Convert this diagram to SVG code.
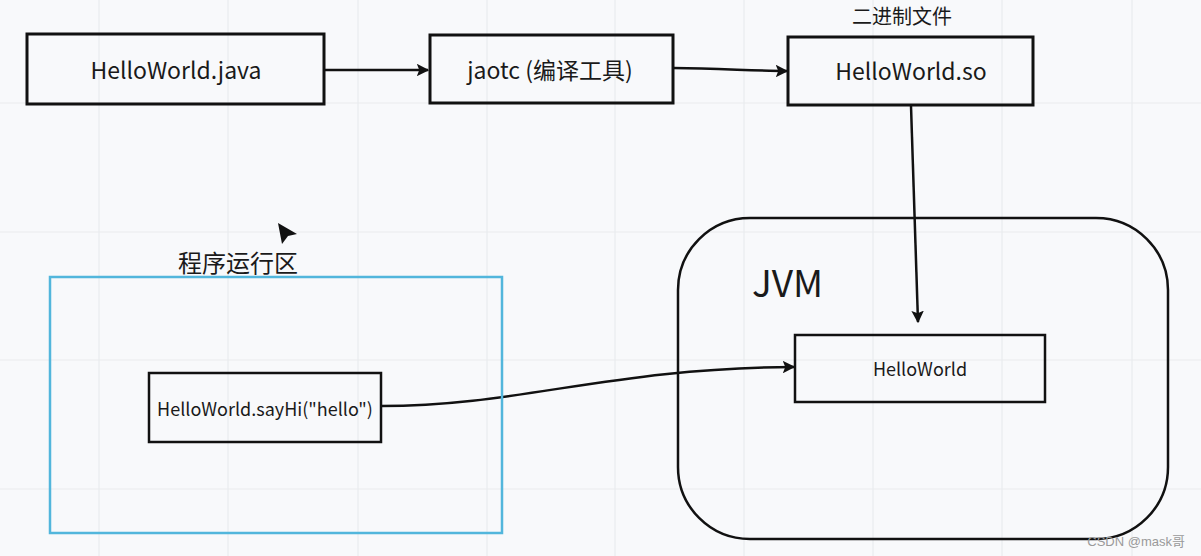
<svg xmlns="http://www.w3.org/2000/svg" width="1201" height="556" viewBox="0 0 1201 556">
<defs>
<marker id="ah" viewBox="0 0 10 10" refX="9" refY="5" markerWidth="5" markerHeight="5" orient="auto" markerUnits="strokeWidth">
<path d="M0,0 L10,5 L0,10 L2,5 z" fill="#111"/>
</marker>
<style>
.grid{stroke:#e9ebee;stroke-width:1.2}
.box{fill:none;stroke:#111;stroke-width:3}
.ibox{fill:none;stroke:#111;stroke-width:2.5}
.t{font-family:"Noto Sans CJK SC","Noto Sans",sans-serif;fill:#1a1a1a;text-anchor:middle}
.con{fill:none;stroke:#111;stroke-width:2.5;marker-end:url(#ah)}
</style>
</defs>
<rect width="1201" height="556" fill="#f8f9fb"/>
<g id="grid">
<path class="grid" d="M99,0V556M228,0V556M358,0V556M487,0V556M615,0V556M744,0V556M873,0V556M1002,0V556M1132,0V556M0,103H1201M0,232H1201M0,360H1201M0,489H1201"/>
</g>
<g id="connectors">
<path class="con" d="M324,70 L428,70"/>
<path class="con" d="M673,68 C720,68 750,71 787,71"/>
<path class="con" d="M911,106 L918,322"/>
<path class="con" d="M381,406 C520,406 610,368 794,367"/>
</g>
<g id="java">
<rect class="box" x="27" y="34" width="297" height="70"/>
<text class="t" x="176" y="79" font-size="23">HelloWorld.java</text>
</g>
<g id="jaotc">
<rect class="box" x="430" y="35" width="243" height="68"/>
<text class="t" x="550" y="79" font-size="23">jaotc (编译工具)</text>
</g>
<g id="so">
<text class="t" x="902" y="24" font-size="20">二进制文件</text>
<rect class="box" x="788" y="37" width="245" height="68"/>
<text class="t" x="911" y="80" font-size="23">HelloWorld.so</text>
</g>
<g id="jvm">
<rect class="ibox" x="678" y="218" width="490" height="321" rx="72" ry="72"/>
<text x="752" y="297" font-size="37" font-family="Noto Sans CJK SC, Noto Sans, sans-serif" fill="#1a1a1a">JVM</text>
</g>
<g id="helloworld">
<rect class="ibox" x="795" y="335" width="250" height="67"/>
<text class="t" x="920" y="376" font-size="18">HelloWorld</text>
</g>
<g id="runarea">
<text class="t" x="238" y="272" font-size="24">程序运行区</text>
<rect x="50" y="277" width="452" height="256" fill="none" stroke="#52b6dc" stroke-width="2.5"/>
</g>
<g id="sayhi">
<rect class="ibox" x="149" y="373" width="232" height="69"/>
<text class="t" x="265" y="416" font-size="18">HelloWorld.sayHi("hello")</text>
</g>
<g id="cursor">
<path d="M278,223 L297,234 L288,236 L282,244 Z" fill="#111"/>
</g>
<text x="1185" y="546" font-size="13" font-family="Liberation Sans, Noto Sans CJK SC, sans-serif" fill="#9a9a9a" text-anchor="end">CSDN @mask哥</text>
</svg>
